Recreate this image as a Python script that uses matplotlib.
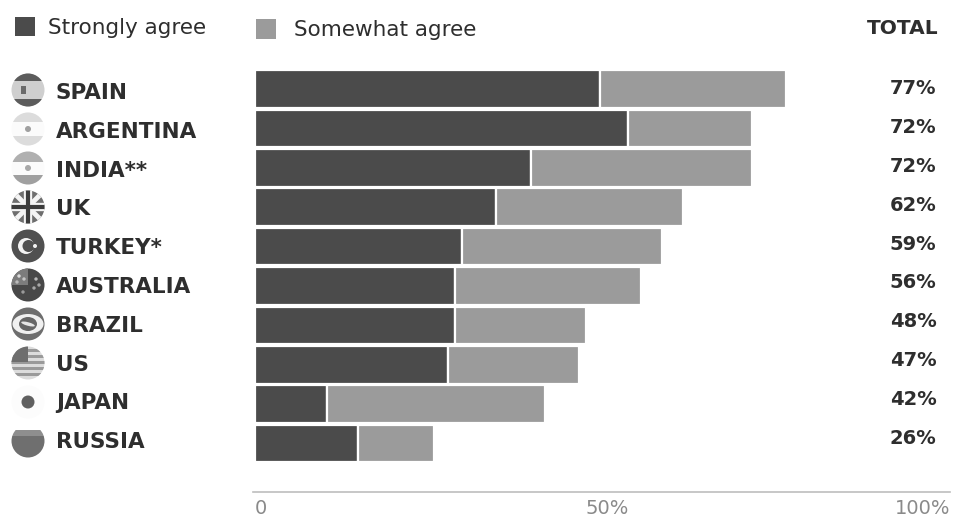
import matplotlib
matplotlib.use("Agg")
from matplotlib import pyplot as plt
from matplotlib.patches import Circle, Rectangle, Wedge, Ellipse
from matplotlib.transforms import ScaledTranslation

countries = ["SPAIN", "ARGENTINA", "INDIA**", "UK", "TURKEY*",
             "AUSTRALIA", "BRAZIL", "US", "JAPAN", "RUSSIA"]
strongly = [50, 54, 40, 35, 30, 29, 29, 28, 10.5, 15]
somewhat = [27, 18, 32, 27, 29, 27, 19, 19, 31.5, 11]
totals = [77, 72, 72, 62, 59, 56, 48, 47, 42, 26]
tick_values = [0, 50, 100]
tick_labels = ["0", "50%", "100%"]

W, H = 954, 519
DARK = "#4b4b4b"
LIGHT = "#9b9b9b"
TEXT = "#2e2e2e"
FONT = "DejaVu Sans"

fig = plt.figure(figsize=(W / 100, H / 100), dpi=100)

# bar panel, placed in pixels
left, right, top, bottom = 253, 950, 60, 492
ax = fig.add_axes([left / W, 1 - bottom / H, (right - left) / W, (bottom - top) / H])
per_pct = 6.9
row_h = 39.4
ax.set_xlim(-(255 - left) / per_pct, (right - 255) / per_pct)
ax.set_ylim((bottom - 89) / row_h, (top - 89) / row_h)

rows = range(len(countries))
ax.barh(rows, strongly, height=0.95, color=DARK, edgecolor="white", linewidth=1.6)
ax.barh(rows, somewhat, left=strongly, height=0.95, color=LIGHT, edgecolor="white", linewidth=1.6)

for s in ["top", "left", "right"]:
    ax.spines[s].set_visible(False)
ax.spines["bottom"].set_color("#bdbdbd")
ax.spines["bottom"].set_linewidth(1.2)
ax.set_yticks([])
ax.set_xticks(tick_values, tick_labels, fontfamily=FONT, fontsize=14, color="#8a8a8a")
ax.tick_params(axis="x", length=0, pad=5)
for lab, ha, dx in zip(ax.get_xticklabels(), ["left", "center", "right"], [0, 7, 5]):
    lab.set_ha(ha)
    lab.set_transform(lab.get_transform() + ScaledTranslation(dx / 100, 0, fig.dpi_scale_trans))

# overlay in pixel coordinates for legend, row labels and flag icons
ov = fig.add_axes([0, 0, 1, 1])
ov.set_xlim(0, W)
ov.set_ylim(H, 0)
ov.axis("off")
ov.patch.set_alpha(0)


def band(cx, cy, y0, y1, color, clip):
    b = Rectangle((cx - 18, cy + y0), 36, y1 - y0, color=color, lw=0)
    ov.add_patch(b)
    b.set_clip_path(clip)


def base(cx, cy, color, r=16.5):
    c = Circle((cx, cy), r, color=color, lw=0)
    ov.add_patch(c)
    return c


def spain(cx, cy):
    c = base(cx, cy, "#cfcfcf")
    band(cx, cy, -17, -9, "#5c5c5c", c)
    band(cx, cy, 9, 17, "#5c5c5c", c)
    ov.add_patch(Rectangle((cx - 7, cy - 4), 5, 8, color="#6a6a6a", lw=0))


def argentina(cx, cy):
    c = base(cx, cy, "#fbfbfb")
    band(cx, cy, -17, -7, "#dcdcdc", c)
    band(cx, cy, 7, 17, "#dcdcdc", c)
    ov.add_patch(Circle((cx, cy), 3, color="#a0a0a0", lw=0))


def india(cx, cy):
    c = base(cx, cy, "#fbfbfb")
    band(cx, cy, -17, -6, "#b0b0b0", c)
    band(cx, cy, 7, 17, "#a0a0a0", c)
    ov.add_patch(Circle((cx, cy), 3, color="#a8a8a8", lw=0))


def uk(cx, cy):
    c = base(cx, cy, "#6e6e6e")
    # white diagonals and cross, with the dark cross on top
    for p0, p1, col, w in [((-16, -16), (16, 16), "#f4f4f4", 3.5), ((-16, 16), (16, -16), "#f4f4f4", 3.5),
                           ((-17, 0), (17, 0), "#f4f4f4", 6), ((0, -17), (0, 17), "#f4f4f4", 6),
                           ((-17, 0), (17, 0), "#3c3c3c", 3), ((0, -17), (0, 17), "#3c3c3c", 3)]:
        ln, = ov.plot([cx + p0[0], cx + p1[0]], [cy + p0[1], cy + p1[1]], color=col, lw=w)
        ln.set_clip_path(c)


def turkey(cx, cy):
    base(cx, cy, "#505050")
    ov.add_patch(Circle((cx - 2, cy), 8, color="#f2f2f2", lw=0))
    ov.add_patch(Circle((cx + 0.5, cy), 6, color="#505050", lw=0))
    ov.add_patch(Circle((cx + 7, cy), 2, color="#f2f2f2", lw=0))


def australia(cx, cy):
    base(cx, cy, "#484848")
    ov.add_patch(Wedge((cx, cy), 16.5, 180, 270, color="#7c7c7c", lw=0))
    for dx, dy, col in [(-9, -9, "#dddddd"), (-4, -6, "#c4c4c4"), (-11, -3, "#bbbbbb"), (8, -6, "#b8b8b8"),
                        (11, 0, "#a8a8a8"), (6, 3, "#a8a8a8"), (-5, 7, "#9a9a9a")]:
        ov.add_patch(Circle((cx + dx, cy + dy), 1.7, color=col, lw=0))


def brazil(cx, cy):
    base(cx, cy, "#6e6e6e")
    ov.add_patch(Ellipse((cx, cy), 31, 20, color="#f0f0f0", lw=0))
    ov.add_patch(Ellipse((cx, cy), 18, 14, color="#666666", lw=0))
    ov.add_patch(Ellipse((cx, cy), 14, 3.5, angle=15, color="#e6e6e6", lw=0))


def us(cx, cy):
    c = base(cx, cy, "#dcdcdc")
    for y0 in [-14, -8, -2, 4, 10]:
        band(cx, cy, y0, y0 + 3.2, "#9a9a9a", c)
    r = Rectangle((cx - 17, cy - 17), 17, 16, color="#6e6e6e", lw=0)
    ov.add_patch(r)
    r.set_clip_path(c)


def japan(cx, cy):
    base(cx, cy, "#fcfcfc")
    ov.add_patch(Circle((cx, cy), 6.5, color="#606060", lw=0))


def russia(cx, cy):
    c = base(cx, cy, "#ffffff")
    band(cx, cy, -11, -5, "#8e8e8e", c)
    band(cx, cy, -5, 17, "#6f6f6f", c)


flag_fns = [spain, argentina, india, uk, turkey, australia, brazil, us, japan, russia]

for i, name in enumerate(countries):
    flag_fns[i](28, 90 + 39 * i)
    ov.text(56, 91 + 38.8 * i, name, fontfamily=FONT, fontweight="bold", fontsize=15.5,
            color=TEXT, va="center_baseline", ha="left")
    ov.text(913, 87 + 38.8 * i, "%d%%" % totals[i], fontfamily=FONT, fontweight="bold",
            fontsize=14, color=TEXT, va="center_baseline", ha="center")

# legend row
ov.add_patch(Rectangle((15, 17), 20, 19, color=DARK, lw=0))
ov.text(48, 26, "Strongly agree", fontfamily=FONT, fontsize=15.5,
        color=TEXT, va="center_baseline", ha="left")
ov.add_patch(Rectangle((256, 19), 20, 20, color=LIGHT, lw=0))
ov.text(294, 28, "Somewhat agree", fontfamily=FONT, fontsize=15.5,
        color=TEXT, va="center_baseline", ha="left")
ov.text(903, 27, "TOTAL", fontfamily=FONT, fontweight="bold", fontsize=14.5,
        color=TEXT, va="center_baseline", ha="center")

fig.savefig("out.png", dpi=100)
